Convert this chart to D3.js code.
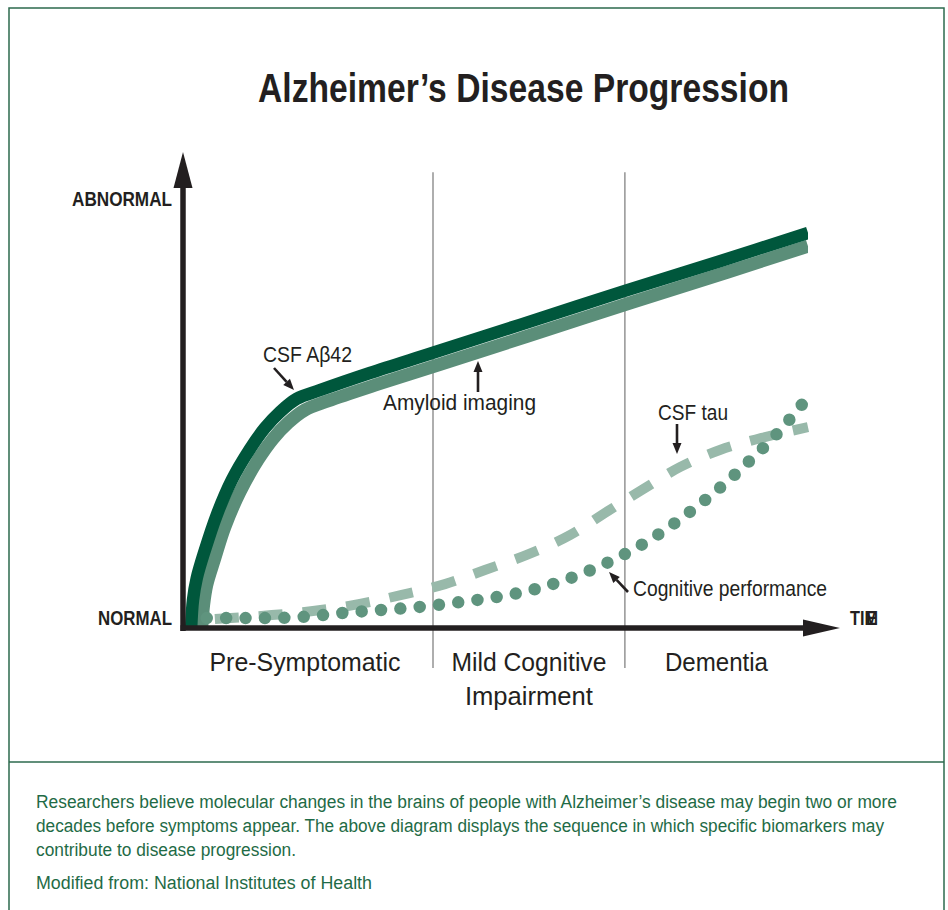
<!DOCTYPE html>
<html>
<head>
<meta charset="utf-8">
<script src="https://cdn.jsdelivr.net/npm/d3@7"></script>
<style>
  html, body { margin: 0; padding: 0; background: #fff; }
  svg { display: block; }
</style>
</head>
<body>
<div id="chart"></div>
<script>
// ---------------- data ----------------
// time runs 0..100 along the x axis, biomarker level 0 (normal) .. 100 (abnormal)
const stageNames = ["Pre-Symptomatic", "Mild Cognitive|Impairment", "Dementia"];
const stageBounds = [0, 40, 70.7, 100];

const csfAbeta42 = [[1.3,0],[1.6,6.5],[2.2,11.6],[3.5,18.1],[5.4,26.3],[7.8,34.4],[10.7,41.6],[13.1,46.5],[15.5,50.2],[18.2,53.3],[21.9,55.3],[29.9,59.3],[40,64.0],[53.9,70.5],[70.7,78.4],[85.9,85.3],[100,91.9]];
const amyloidImaging = [[3.0,0],[3.3,5.4],[3.8,10.0],[5.0,15.8],[6.7,23.5],[9.1,31.6],[12.0,39.1],[14.4,44.0],[16.8,47.7],[19.5,50.7],[23.2,52.8],[31.2,56.7],[41.3,61.4],[55.2,67.9],[72.0,75.8],[87.2,82.8],[100,88.8]];
const csfTau = [[5.1,2.1],[14.2,3.0],[21.1,4.0],[28.3,5.6],[35.0,7.7],[41.9,10.2],[48.3,13.5],[55.0,17.0],[61.9,21.6],[68.0,27.2],[73.4,32.1],[79.5,37.4],[85.9,41.4],[92.6,44.2],[100,46.7]];
const cognitivePerformance = [[3.8,2.3],[13.3,2.3],[19.4,2.6],[25.6,3.5],[31.8,4.2],[37.9,4.9],[44.2,6.0],[50.2,7.2],[56.5,9.1],[65.3,13.5],[70.7,17.2],[76.2,21.9],[81.1,27.0],[85.9,32.6],[90.6,38.8],[95.0,45.1],[99.0,51.9]];

const yLabels = ["ABNORMAL", "NORMAL"];
const xLabel = "TIME";
const titleText = "Alzheimer’s Disease Progression";
const captionLines = [
  "Researchers believe molecular changes in the brains of people with Alzheimer’s disease may begin two or more",
  "decades before symptoms appear. The above diagram displays the sequence in which specific biomarkers may",
  "contribute to disease progression."
];
const sourceLine = "Modified from: National Institutes of Health";

// ---------------- layout ----------------
const W = 948, H = 910;
const FONT = "'Liberation Sans','Arimo','Helvetica','Arial',sans-serif";
const INK = "#231f20";
const GREEN_TEXT = "#1f6b46";

const svg = d3.select("#chart").append("svg")
  .attr("width", W).attr("height", H).attr("viewBox", `0 0 ${W} ${H}`);

const x = d3.scaleLinear().domain([0, 100]).range([183, 808]);
const y = d3.scaleLinear().domain([0, 100]).range([628, 198]);

function fit(sel, w) {
  sel.attr("textLength", w).attr("lengthAdjust", "spacingAndGlyphs");
  return sel;
}

// frame
svg.append("rect").attr("x", 9).attr("y", 8).attr("width", 935).attr("height", 930)
  .attr("fill", "none").attr("stroke", "#2d6a4e").attr("stroke-width", 1.5);
svg.append("line").attr("x1", 9).attr("x2", 944).attr("y1", 762).attr("y2", 762)
  .attr("stroke", "#2d6a4e").attr("stroke-width", 1.5);

// title
fit(svg.append("text").attr("x", 523.5).attr("y", 102).attr("text-anchor", "middle")
  .attr("font-family", FONT).attr("font-weight", "bold").attr("font-size", 40)
  .attr("fill", INK).text(titleText), 531);

// stage boundaries
svg.selectAll("line.stage").data(stageBounds.slice(1, -1)).join("line")
  .attr("class", "stage")
  .attr("x1", d => x(d)).attr("x2", d => x(d))
  .attr("y1", y(106)).attr("y2", 668)
  .attr("stroke", "#9a9a9a").attr("stroke-width", 1.6);

// stage labels
const stageW = [[191], [155, 128], [103]];
stageNames.forEach((name, i) => {
  const cx = x((stageBounds[i] + stageBounds[i + 1]) / 2) - (i === 0 ? 3 : 0);
  name.split("|").forEach((ln, j) => {
    fit(svg.append("text").attr("x", cx).attr("y", 671 + j * 34).attr("text-anchor", "middle")
      .attr("font-family", FONT).attr("font-size", 26.5).attr("fill", INK).text(ln), stageW[i][j]);
  });
});

// clip for curves (ends cut square at the last time point, and at the axis)
svg.append("clipPath").attr("id", "plotclip").append("rect")
  .attr("x", x(0)).attr("y", 150).attr("width", x(100) - x(0)).attr("height", y(0) - 150);

const smooth = d3.line().x(d => x(d[0])).y(d => y(d[1])).curve(d3.curveCatmullRom.alpha(0.5));
const mono = d3.line().x(d => x(d[0])).y(d => y(d[1])).curve(d3.curveMonotoneX);
const g = svg.append("g").attr("clip-path", "url(#plotclip)");

// amyloid imaging (light band) then CSF Abeta42 (dark band)
g.append("path").attr("d", smooth(amyloidImaging)).attr("fill", "none")
  .attr("stroke", "#5b8e79").attr("stroke-width", 13);
g.append("path").attr("d", smooth(csfAbeta42)).attr("fill", "none")
  .attr("stroke", "#00573c").attr("stroke-width", 12.5);

// CSF tau (dashed)
svg.append("path").attr("d", mono(csfTau)).attr("fill", "none")
  .attr("stroke", "#98b9aa").attr("stroke-width", 10)
  .attr("stroke-dasharray", "24,20");

// cognitive performance (dotted)
svg.append("path").attr("d", mono(cognitivePerformance)).attr("fill", "none")
  .attr("stroke", "#5f947e").attr("stroke-width", 12.5)
  .attr("stroke-linecap", "round").attr("stroke-dasharray", "0,19.4");

// axes with arrowheads
svg.append("line").attr("x1", x(0)).attr("x2", x(0)).attr("y1", y(0) + 3).attr("y2", 186)
  .attr("stroke", INK).attr("stroke-width", 5.5);
svg.append("path").attr("d", `M${x(0) - 9.5},188 L${x(0)},152 L${x(0) + 9.5},188 Z`).attr("fill", INK);
svg.append("line").attr("x1", x(0) - 2.5).attr("x2", 806).attr("y1", y(0)).attr("y2", y(0))
  .attr("stroke", INK).attr("stroke-width", 5.5);
svg.append("path").attr("d", `M803,${y(0) - 8.5} L840,${y(0)} L803,${y(0) + 8.5} Z`).attr("fill", INK);

// axis labels
fit(svg.append("text").attr("x", 172).attr("y", 206).attr("text-anchor", "end")
  .attr("font-family", FONT).attr("font-weight", "bold").attr("font-size", 21)
  .attr("fill", INK).text(yLabels[0]), 100);
fit(svg.append("text").attr("x", 172).attr("y", 625).attr("text-anchor", "end")
  .attr("font-family", FONT).attr("font-weight", "bold").attr("font-size", 21)
  .attr("fill", INK).text(yLabels[1]), 74);
// "TIME" — in the reference the final E is printed over the M
const tt = svg.append("text").attr("x", 850).attr("y", 625)
  .attr("font-family", FONT).attr("font-weight", "bold").attr("font-size", 20).attr("fill", INK);
tt.append("tspan").attr("textLength", 28).attr("lengthAdjust", "spacingAndGlyphs").text(xLabel.slice(0, 3));
tt.append("tspan").attr("x", 866).attr("textLength", 11).attr("lengthAdjust", "spacingAndGlyphs").text(xLabel.slice(3));

// annotations
function arrow(x1, y1, x2, y2) {
  const a = Math.atan2(y2 - y1, x2 - x1), L = 11, Wd = 4.5;
  const bx = x2 - L * Math.cos(a), by = y2 - L * Math.sin(a);
  svg.append("line").attr("x1", x1).attr("y1", y1).attr("x2", bx).attr("y2", by)
    .attr("stroke", INK).attr("stroke-width", 2.6);
  const px = -Math.sin(a) * Wd, py = Math.cos(a) * Wd;
  svg.append("path").attr("d", `M${x2},${y2} L${bx + px},${by + py} L${bx - px},${by - py} Z`).attr("fill", INK);
}
function note(txt, tx, ty, w) {
  fit(svg.append("text").attr("x", tx).attr("y", ty).attr("font-family", FONT)
    .attr("font-size", 21.5).attr("fill", INK).text(txt), w);
}
note("CSF Aβ42", 263, 362, 89);
arrow(274, 368, 294, 390);
note("Amyloid imaging", 383, 410, 153);
arrow(478, 392, 478, 361);
note("CSF tau", 658, 420, 70);
arrow(677, 424, 677, 454);
note("Cognitive performance", 633, 596, 194);
arrow(628, 592, 609, 572);

// caption
const capW = [861, 848, 260];
captionLines.forEach((ln, i) => {
  fit(svg.append("text").attr("x", 36).attr("y", 808 + i * 24)
    .attr("font-family", FONT).attr("font-size", 18).attr("fill", GREEN_TEXT).text(ln), capW[i]);
});
fit(svg.append("text").attr("x", 36).attr("y", 889)
  .attr("font-family", FONT).attr("font-size", 18).attr("fill", GREEN_TEXT).text(sourceLine), 336);
</script>
</body>
</html>
